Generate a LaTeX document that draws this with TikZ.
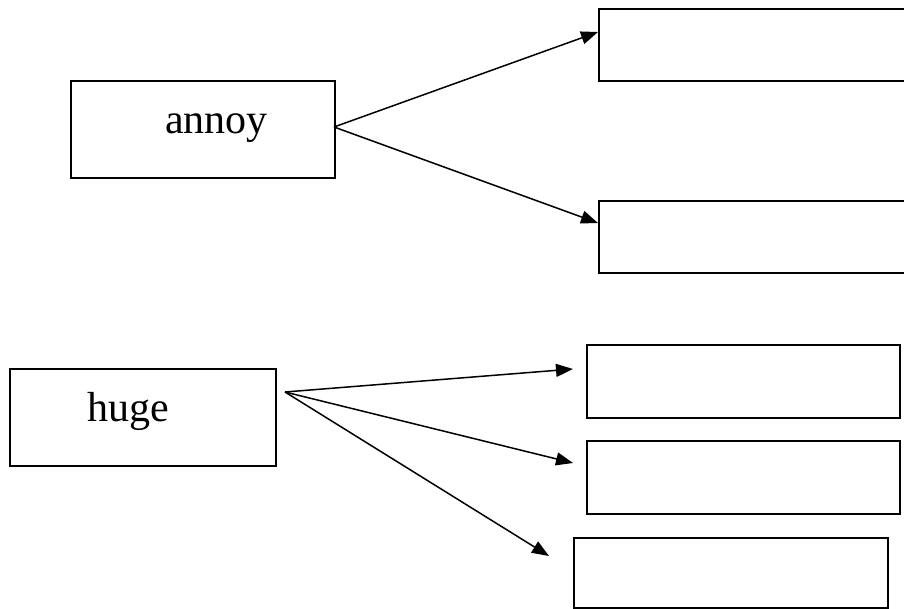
\documentclass[tikz,border=0pt]{standalone}
\usepackage{fontspec}
\setmainfont{Liberation Serif}
\usetikzlibrary{arrows.meta}
\begin{document}
\begin{tikzpicture}[x=1pt,y=-1pt,
  box/.style={draw,line width=2pt,rectangle,inner sep=0pt,anchor=north west},
  conn/.style={line width=1.5pt,-{Triangle[length=17pt,width=13pt]}},
  lbl/.style={anchor=base west,inner sep=0pt,font=\fontsize{42}{48}\selectfont}]
\useasboundingbox (0,0) rectangle (904,608);
\clip (0,0) rectangle (904,608);
% boxes
\node[box,minimum width=264pt,minimum height=97pt] (annoy) at (70,80) {};
\node[box,minimum width=320pt,minimum height=72pt] (t1) at (598,8) {};
\node[box,minimum width=320pt,minimum height=72pt] (t2) at (598,200) {};
\node[box,minimum width=266pt,minimum height=97pt] (huge) at (9,368) {};
\node[box,minimum width=313pt,minimum height=73pt] (b1) at (586,344) {};
\node[box,minimum width=313pt,minimum height=73pt] (b2) at (586,440) {};
\node[box,minimum width=314pt,minimum height=70pt] (b3) at (573,537) {};
% labels
\node[lbl] (annoytxt) at (165,133) {annoy};
\node[lbl] (hugetxt) at (87,421) {huge};
% connector points
\coordinate (a0) at (334,127);
\coordinate (h0) at (285,392);
\coordinate (t1in) at (598,32);
\coordinate (t2in) at (598,223);
\coordinate (b1in) at (573,369);
\coordinate (b2in) at (573,463);
\coordinate (b3in) at (549,556);
% connectors
\draw[conn] (a0) -- (t1in);
\draw[conn] (a0) -- (t2in);
\draw[conn] (h0) -- (b1in);
\draw[conn] (h0) -- (b2in);
\draw[conn] (h0) -- (b3in);
\end{tikzpicture}
\end{document}
